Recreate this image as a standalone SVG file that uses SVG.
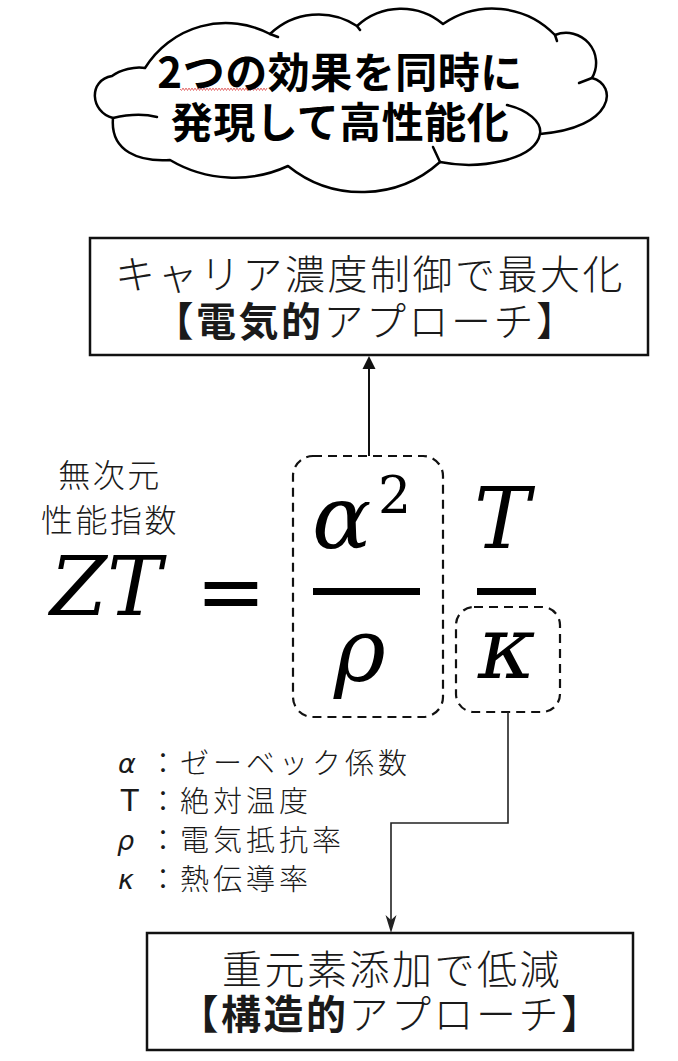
<svg xmlns="http://www.w3.org/2000/svg" width="678" height="1061" viewBox="0 0 678 1061">
<style>
.jp{font-family:"Noto Sans CJK JP","Noto Sans CJK SC",sans-serif;fill:#1a1a1a}
.cloudtxt{font-size:42px;font-weight:700;fill:#000;letter-spacing:0.5px}
.boxtxt{font-size:40px;font-weight:300;letter-spacing:2.5px}
.b{font-weight:700}
.leg{font-size:29px;font-weight:300;letter-spacing:4px}
.lbl{font-size:32px;font-weight:300;letter-spacing:2.5px}
.math{font-family:"DejaVu Serif",serif;font-style:italic;fill:#000}
.box{fill:#fff;stroke:#111;stroke-width:2.5}
.dash{fill:none;stroke:#111;stroke-width:2.2;stroke-dasharray:9 6}
.con{fill:none;stroke:#222;stroke-width:1.6}
.cl{fill:none;stroke:#000;stroke-width:2.5;stroke-linecap:round}
</style>
<rect width="678" height="1061" fill="#fff"/>

<g id="cloud">
<path d="M145,68 A95,95 0 0 1 270,34 A70,70 0 0 1 357,26 A65,65 0 0 1 443,24 A87,87 0 0 1 555,35 A30,30 0 0 1 592,78 C618,85 615,128 540,134 C535,160 480,170 440,162 A117,117 0 0 1 288,166 A127,127 0 0 1 170,160 C140,162 110,152 113,118 C90,112 88,80 112,76 C120,70 135,66 145,68 Z" fill="#fff" stroke="#000" stroke-width="2.5" stroke-linejoin="round"/>
<path class="cl" d="M113,118 C130,114 145,114 157,117"/>
<path class="cl" d="M270,34 L278,37"/>
<path class="cl" d="M357,26 L360,30"/>
<path class="cl" d="M555,35 L557,41"/>
<path class="cl" d="M592,78 L579,83"/>
<path class="cl" d="M507,105 C528,110 542,122 540,134"/>
<path class="cl" d="M433,147 L440,162"/>
<polyline points="180,89 181.5,90.5 183,88 184.5,90.5 186,88 187.5,90.5 189,88 190.5,90.5 192,88 193.5,90.5 195,88 196.5,90.5 198,88 199.5,90.5 201,88 202.5,90.5 204,88 205.5,90.5 207,88 208.5,90.5 210,88 211.5,90.5 213,88 214.5,90.5 216,88 217.5,90.5 219,88 220.5,90.5 222,88 223.5,90.5 225,88 226.5,90.5 228,88 229.5,90.5 231,88 232.5,90.5 234,88 235.5,90.5 237,88 238.5,90.5 240,88 241.5,90.5 243,88 244.5,90.5 246,88 247.5,90.5 249,88 250.5,90.5 252,88 253.5,90.5 255,88 256.5,90.5 258,88 259.5,90.5 261,88 262.5,90.5 264,88 265.5,90.5 267,88" fill="none" stroke="#e06060" stroke-width="0.9"/>
<text class="jp cloudtxt" x="340" y="88" text-anchor="middle">2つの効果を同時に</text>
<text class="jp cloudtxt" x="340" y="138" text-anchor="middle">発現して高性能化</text>
</g>

<g id="box-electric">
<rect class="box" x="90" y="238" width="558" height="117"/>
<text class="jp boxtxt" x="370" y="289" text-anchor="middle">キャリア濃度制御で最大化</text>
<text class="jp boxtxt" x="366" y="336" text-anchor="middle"><tspan class="b">【電気的</tspan>アプローチ】</text>
</g>

<g id="label-zt">
<text class="jp lbl" x="110" y="487" text-anchor="middle">無次元</text>
<text class="jp lbl" x="110" y="532" text-anchor="middle">性能指数</text>
</g>

<g id="formula">
<text class="math" x="50" y="615" style="font-size:82px">ZT</text>
<text x="231" y="620" text-anchor="middle" style="font-family:'DejaVu Sans',sans-serif;font-size:84px;fill:#000">=</text>
<text class="math" x="312" y="548" style="font-size:88px">α</text>
<text x="378" y="513" style="font-family:'DejaVu Serif',serif;font-size:52px;fill:#000">2</text>
<rect x="313" y="588" width="107" height="7" fill="#000"/>
<text class="math" x="334" y="681" style="font-size:88px">ρ</text>
<text class="math" x="474" y="548" style="font-size:84px">T</text>
<rect x="477" y="588" width="59" height="7" fill="#000"/>
<text class="math" x="478" y="678" style="font-size:88px">κ</text>
</g>

<g id="group-alpha-rho">
<rect class="dash" x="293" y="456" width="150" height="261" rx="20"/>
</g>
<g id="group-kappa">
<rect class="dash" x="456" y="607" width="104" height="105" rx="18"/>
</g>

<g id="legend">
<text x="118" y="773" style="font-family:'DejaVu Sans',sans-serif;font-style:italic;font-size:27px;fill:#1a1a1a">α</text>
<text x="120" y="811" style="font-family:'Liberation Sans',sans-serif;font-size:32px;fill:#1a1a1a">T</text>
<text x="117" y="850" style="font-family:'DejaVu Sans',sans-serif;font-style:italic;font-size:27px;fill:#1a1a1a">ρ</text>
<text x="118" y="889" style="font-family:'DejaVu Sans',sans-serif;font-style:italic;font-size:27px;fill:#1a1a1a">κ</text>
<text class="jp leg" x="163" y="774" text-anchor="middle" style="letter-spacing:0">：</text>
<text class="jp leg" x="163" y="812" text-anchor="middle" style="letter-spacing:0">：</text>
<text class="jp leg" x="163" y="851" text-anchor="middle" style="letter-spacing:0">：</text>
<text class="jp leg" x="163" y="890" text-anchor="middle" style="letter-spacing:0">：</text>
<text class="jp leg" x="180" y="774">ゼーベック係数</text>
<text class="jp leg" x="180" y="812">絶対温度</text>
<text class="jp leg" x="180" y="851">電気抵抗率</text>
<text class="jp leg" x="180" y="890">熱伝導率</text>
</g>

<g id="box-structural">
<rect class="box" x="147" y="933" width="486" height="117"/>
<text class="jp boxtxt" x="392" y="984" text-anchor="middle">重元素添加で低減</text>
<text class="jp boxtxt" x="391" y="1029" text-anchor="middle"><tspan class="b">【構造的</tspan>アプローチ】</text>
</g>

<g id="connectors">
<line x1="369" y1="456" x2="369" y2="368" stroke="#111" stroke-width="2"/>
<path d="M369,356 L375.5,369 L362.5,369 Z" fill="#111"/>
<polyline class="con" points="508,712 508,823 391,823 391,920"/>
<path d="M391,933 L385.5,915 L391,920 L396.5,915 Z" fill="#222"/>
</g>
</svg>
